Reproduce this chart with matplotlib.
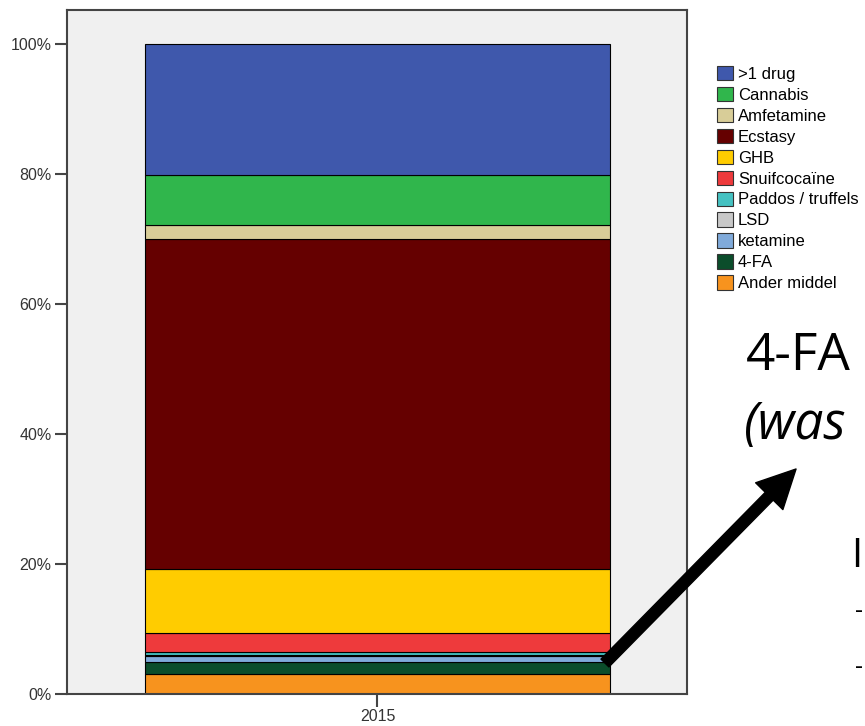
import matplotlib.pyplot as plt
import numpy as np
from matplotlib.patches import Patch, FancyArrowPatch

plt.rcParams['font.family'] = ['Liberation Sans', 'DejaVu Sans']

# stack order bottom -> top
drugs = ['Ander middel', '4-FA', 'ketamine', 'LSD', 'Paddos / truffels',
         'Snuifcocaïne', 'GHB', 'Ecstasy', 'Amfetamine', 'Cannabis', '>1 drug']
shares = [3.1, 1.8, 0.9, 0.2, 0.5, 2.9, 9.9, 50.7, 2.2, 7.6, 20.2]
colors = ['#F7931E', '#0B4D2B', '#80AADA', '#C8C8C8', '#45C2C2',
          '#EE3A3C', '#FFCC00', '#650000', '#D8CD98', '#30B64C', '#3F58AC']
year = ['2015']

fig = plt.figure(figsize=(8.65, 7.26), dpi=100)
ax = fig.add_axes([67 / 865, 32 / 726, 620 / 865, 684 / 726])
ax.set_facecolor('#F0F0F0')

bottom = 0
for d, v, c in zip(drugs, shares, colors):
    ax.bar(0, v, width=1.0, bottom=bottom, color=c, edgecolor='black',
           linewidth=0.8, label=d)
    bottom += v

ax.set_xlim(-0.668, 0.666)
ax.set_ylim(0, 105.2)
ax.set_xticks([0])
ax.set_xticklabels(year)
ax.set_yticks(np.arange(0, 101, 20))
ax.set_yticklabels(['%d%%' % t for t in range(0, 101, 20)])
ax.tick_params(axis='both', labelsize=11.5, labelcolor='#333333', color='#444444',
               length=9, width=1.5, pad=2)
for s in ax.spines.values():
    s.set_color('#444444')
    s.set_linewidth(1.5)

handles = [Patch(facecolor=c, edgecolor='#333333', linewidth=0.8, label=d)
           for d, c in zip(drugs[::-1], colors[::-1])]
fig.legend(handles=handles, loc='upper left', bbox_to_anchor=(717 / 865, 1 - 66 / 726),
           frameon=False, fontsize=12, handlelength=0.95, handleheight=0.95,
           handletextpad=0.3, labelspacing=0.3, borderpad=0, borderaxespad=0)

# slide overlay
fig.text(746 / 865, 1 - 370 / 726, '4-FA', fontsize=37, family='Open Sans',
         va='baseline', ha='left')
fig.text(744 / 865, 1 - 439 / 726, '(was', fontsize=37, family='Open Sans',
         style='italic', va='baseline', ha='left')
fig.text(851 / 865, 1 - 567 / 726, 'I', fontsize=29, family='Open Sans',
         va='baseline', ha='left')
fig.text(855 / 865, 1 - 612 / 726, '-', fontsize=18, family='Open Sans',
         va='center', ha='left')
fig.text(855 / 865, 1 - 667 / 726, '-', fontsize=18, family='Open Sans',
         va='center', ha='left')

fig.patches.append(FancyArrowPatch(
    (603 / 865, 1 - 665 / 726), (798 / 865, 1 - 467 / 726),
    transform=fig.transFigure,
    arrowstyle='simple,head_length=0.55,head_width=0.55,tail_width=0.16',
    mutation_scale=50, color='black'))

fig.savefig('out.png', dpi=100)
